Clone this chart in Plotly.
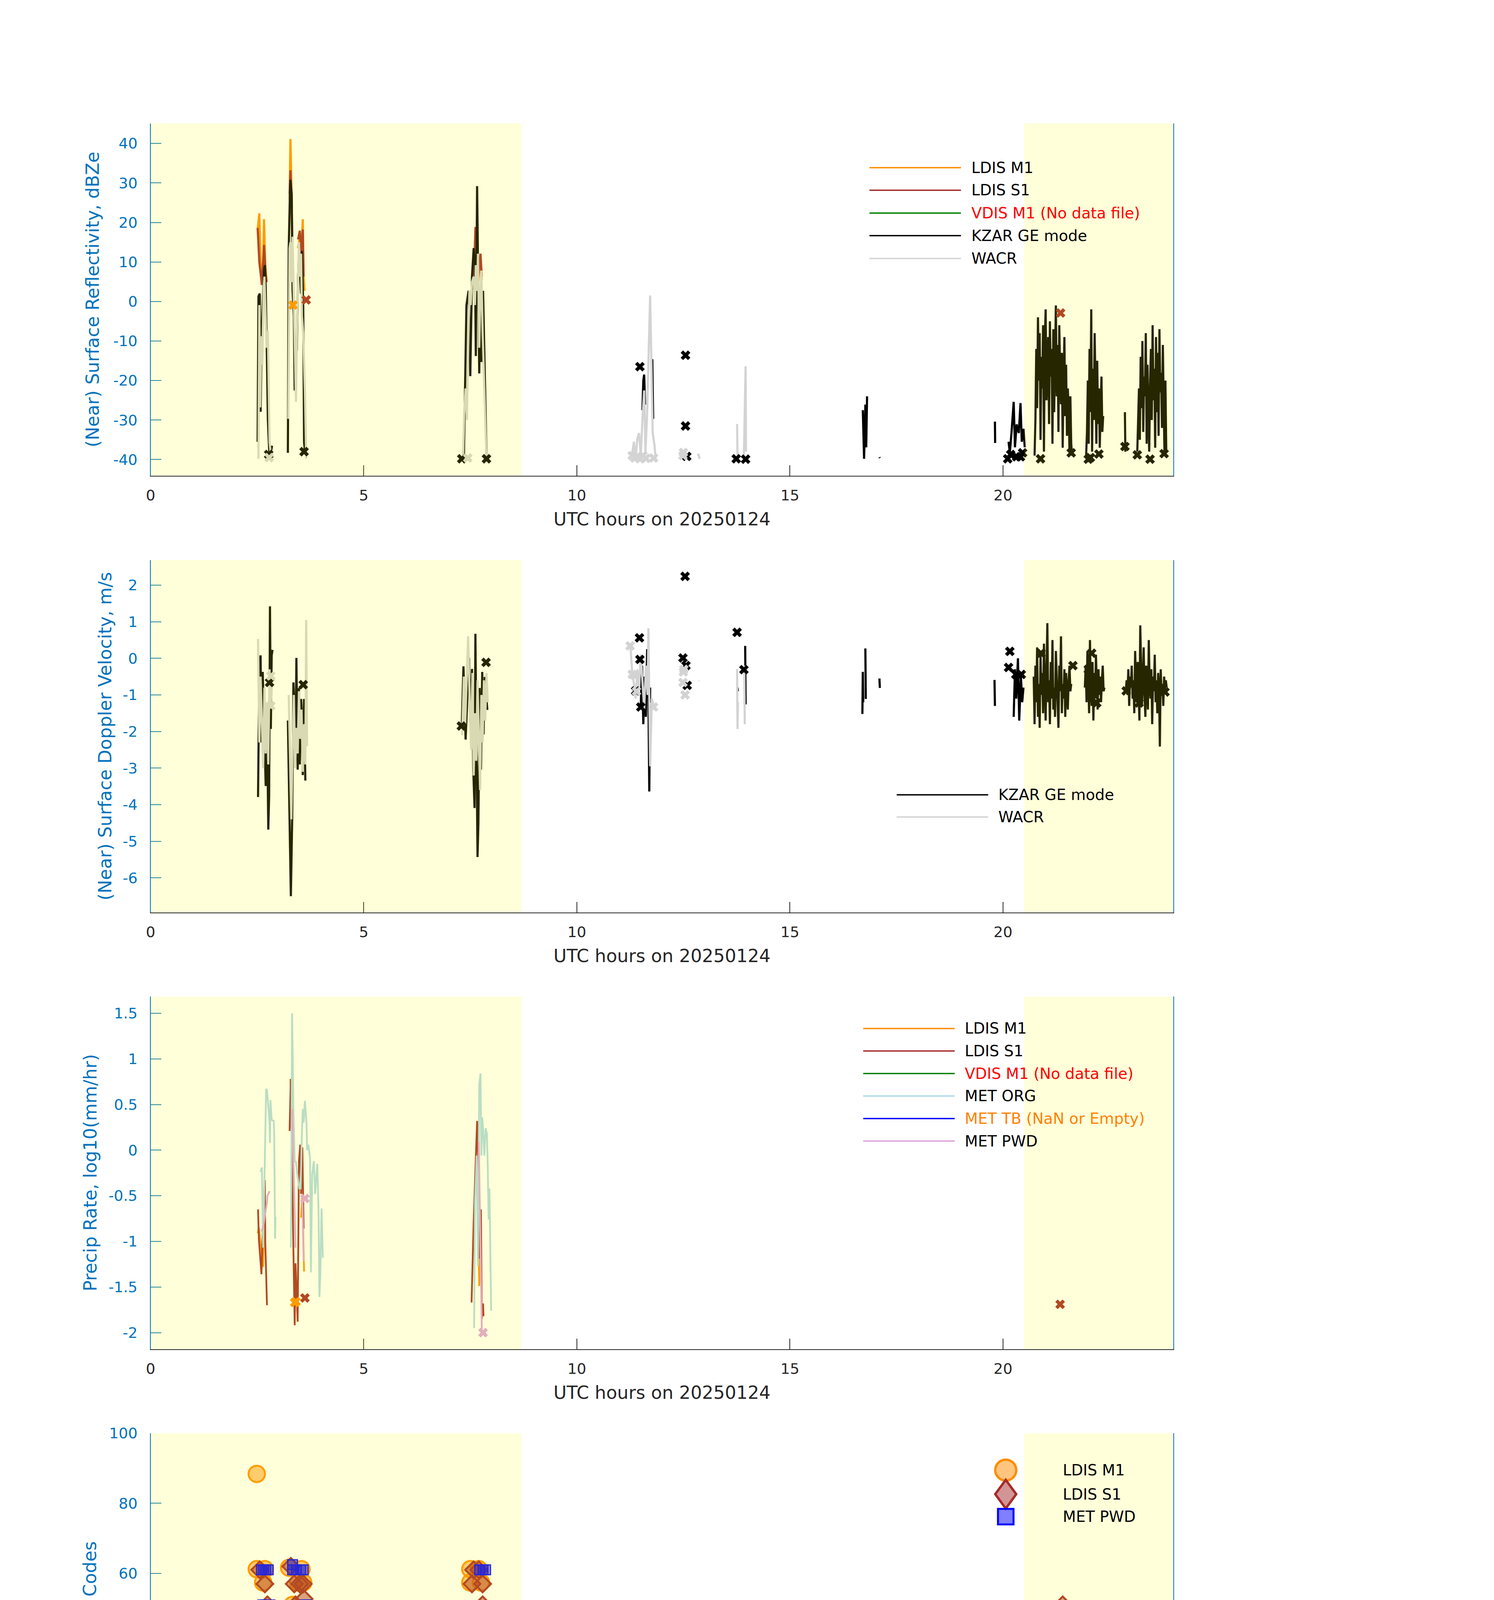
import numpy as np
import plotly.graph_objects as go

W, H = 3825, 6000
FONT = "DejaVu Sans"
AX_BLUE = "#0072BD"
DARK = "#262626"

C_M1 = "#FF8C00"
C_S1 = "#A52A2A"
C_VDIS = "#008000"
C_KZAR = "#000000"
C_WACR = "#D3D3D3"
C_ORG = "#ADD8E6"
C_TB = "#0000FF"
C_PWD = "#DDA0DD"
C_PLUV = "#000000"

# night-time (shaded) windows, UTC hours
night_windows = [(0.0, 8.7), (20.5, 24.0)]
x_ticks = [0, 5, 10, 15, 20]


def clock(t0, dt, vals):
    """sample times of a regularly sampled stretch of data"""
    return [round(t0 + dt * i, 3) for i in range(len(vals))], vals


# ---------------- panel 1: reflectivity (dBZe) ----------------
kzar_dbz = [
    ([2.51, 2.53, 2.56, 2.58, 2.61, 2.63, 2.66, 2.68, 2.70, 2.73, 2.75, 2.79, 2.85],
     [-35.5, 1.3, 2.0, -27.9, -6.6, -1.9, 8.1, 9.2, 3.5, -15.3, -29.7, -39.8, -36.5]),
    ([3.22, 3.24, 3.27, 3.28, 3.31, 3.33, 3.36, 3.38, 3.41, 3.43, 3.46, 3.48, 3.50, 3.53, 3.55, 3.58, 3.60, 3.62],
     [-38.3, 13.5, 28.0, 30.8, 27.2, 2.7, -3.7, -22.5, -10.2, -12.4, 6.3, 12.1, 7.8, 2.0, 12.8, -0.9, -35.5, -38.0]),
    ([7.35, 7.38, 7.41, 7.46, 7.50, 7.54, 7.58, 7.61, 7.63, 7.66, 7.68, 7.71, 7.73, 7.76, 7.80, 7.83, 7.86, 7.88],
     [-39.0, -15.3, -0.9, 2.7, -18.9, 6.3, 13.5, 9.9, -13.8, 29.2, 13.5, -18.2, -0.9, -15.3, 2.7, -15.3, -29.7, -39.0]),
    ([11.54, 11.56, 11.58, 11.60], [-27.5, -20.0, -18.5, -26.1]),
    ([11.77, 11.79], [-14.6, -29.7]),
    ([16.71, 16.74, 16.77, 16.79, 16.81], [-27.5, -39.8, -26.1, -36.9, -24.0]),
    ([17.10, 17.11], [-39.4, -39.6]),
    ([19.81, 19.815], [-30.4, -35.8]),
    ([20.13, 20.16, 20.20, 20.25, 20.28, 20.32, 20.37, 20.41, 20.44, 20.48, 20.51],
     [-35.5, -38.3, -33.0, -25.4, -36.9, -31.1, -33.3, -25.7, -35.5, -32.2, -36.9]),
    clock(20.74, 0.02, [-39, -30, -12, -27, -4, -20, -8, -35, -14, -22, -6, -38, -10, -2, -25, -16, -9, -31,
                        -5, -19, -12, -36, -7, -28, -15, -1, -24, -11, -33, -6, -18, -26, -13, -37, -20, -9,
                        -29, -16, -34, -22, -27, -38, -24, -36, -39]),
    clock(21.95, 0.02, [-39, -33, -20, -36, -12, -28, -2, -38, -17, -30, -8, -25, -36, -15, -31, -22, -37,
                        -27, -19, -33, -29]),
    ([22.86, 22.87], [-28.0, -38.0]),
    clock(23.15, 0.02, [-38, -31, -22, -35, -14, -27, -10, -33, -19, -24, -8, -36, -16, -29, -38, -21, -12,
                        -30, -6, -25, -17, -37, -9, -28, -13, -34, -7, -23, -18, -32, -11, -26, -39, -20, -38]),
]
wacr_dbz = [
    ([2.53, 2.55, 2.57, 2.60, 2.62, 2.65, 2.67, 2.70, 2.72, 2.75, 2.77, 2.79, 2.83],
     [-39.8, -0.9, -26.8, -8.8, -16.0, 3.5, 6.3, -8.1, -11.7, -7.4, -22.5, -35.5, -39.8]),
    ([3.23, 3.26, 3.28, 3.31, 3.33, 3.36, 3.38, 3.41, 3.43, 3.46, 3.48, 3.50, 3.53, 3.55, 3.58, 3.62, 3.65],
     [-29.7, 13.5, 15.0, 4.9, 16.4, -0.9, -15.3, -25.4, -9.5, 9.2, 15.0, 6.3, 12.1, -3.7, -8.1, -22.5, -39.8]),
    ([7.33, 7.36, 7.39, 7.42, 7.45, 7.48, 7.51, 7.54, 7.58, 7.61, 7.63, 7.66, 7.68, 7.71, 7.73, 7.76, 7.79, 7.82, 7.85, 7.88],
     [-39.8, -27.5, -22.0, -30.0, -11.7, 2.7, -0.9, 4.9, 6.3, -0.9, 9.2, 2.7, 12.1, -11.7, -0.9, 7.8, -8.1, -20.3, -29.7, -39.8]),
    ([11.29, 11.34, 11.38, 11.42, 11.46, 11.50, 11.54, 11.58, 11.61, 11.65, 11.69, 11.72, 11.75, 11.78, 11.82, 11.85],
     [-39.0, -35.5, -39.8, -34.7, -33.3, -39.0, -29.7, -22.5, -38.3, -28.3, -11.0, 1.5, -15.3, -33.3, -36.2, -39.8]),
    ([12.85, 12.88], [-38.5, -39.8]),
    ([13.76, 13.77, 13.78], [-31.0, -39.0, -38.0]),
    ([13.92, 13.94, 13.96, 13.97], [-39.0, -23.9, -16.4, -38.0]),
]
m1_dbz = [
    ([2.51, 2.55, 2.58, 2.61, 2.64, 2.66, 2.69, 2.72], [18.2, 22.3, 10.0, 4.2, 10.7, 20.8, 9.2, 4.9]),
    ([3.26, 3.28, 3.31, 3.33], [25.8, 41.1, 25.8, 9.2]),
    ([3.46, 3.50, 3.54, 3.57, 3.59, 3.61], [13.5, 16.4, 12.8, 20.8, 6.3, 2.7]),
    ([7.58, 7.62, 7.66, 7.69, 7.74, 7.77], [3.0, 17.0, 17.5, 5.0, 11.0, 5.5]),
]
s1_dbz = [
    ([2.51, 2.55, 2.61, 2.64, 2.66, 2.69, 2.72], [18.6, 10.0, 4.2, 12.1, 14.3, 8.5, 4.9]),
    ([3.26, 3.28, 3.31, 3.33], [27.2, 33.2, 24.4, 8.5]),
    ([3.46, 3.50, 3.54, 3.57, 3.59], [15.7, 17.9, 12.1, 18.2, 6.3]),
    ([7.58, 7.62, 7.66, 7.69, 7.74, 7.77], [4.2, 18.6, 18.6, 6.3, 12.1, 6.3]),
]
kzar_dbz_pts = ([2.77, 3.60, 7.30, 7.88, 11.48, 12.55, 12.55, 12.58, 13.74, 13.96, 20.11, 20.18, 20.32, 20.41,
                 20.46, 20.88, 21.60, 22.00, 22.05, 22.25, 22.86, 23.15, 23.45, 23.78],
                [-38.7, -38.0, -39.8, -39.8, -16.5, -13.6, -31.5, -39.2, -39.8, -39.9, -39.8, -38.7, -39.3,
                 -39.3, -38.3, -39.8, -38.3, -39.9, -39.5, -38.6, -36.7, -38.8, -39.9, -38.5])
wacr_dbz_pts = ([2.78, 7.44, 11.30, 11.36, 11.42, 11.48, 11.55, 11.62, 11.80, 12.49, 12.50],
                [-39.5, -39.6, -39.0, -39.6, -39.2, -39.8, -39.0, -39.7, -39.6, -39.0, -38.2])
m1_dbz_pts = ([3.34], [-0.9])
s1_dbz_pts = ([3.65, 21.35], [0.4, -2.9])

# ---------------- panel 2: Doppler velocity (m/s) ----------------
kzar_vel = [
    ([2.52, 2.55, 2.58, 2.60, 2.63, 2.66, 2.70, 2.73, 2.76, 2.78, 2.80, 2.82, 2.84, 2.86],
     [-3.79, -0.29, 0.08, -2.30, -0.37, -1.56, -3.49, -1.41, -4.68, -3.79, 1.42, -1.93, 0.08, 0.23]),
    ([3.22, 3.25, 3.27, 3.29, 3.32, 3.35, 3.37, 3.40, 3.42, 3.45, 3.48, 3.50, 3.53, 3.55, 3.57, 3.60, 3.63],
     [-1.70, -3.57, -4.50, -6.50, -4.46, -0.66, -1.26, -2.45, 0.01, -3.04, -0.81, -2.90, -1.11, -1.56, -3.19, -1.11, -3.34]),
    ([7.30, 7.34, 7.39, 7.44, 7.47, 7.50, 7.54, 7.57, 7.60, 7.62, 7.64, 7.67, 7.69, 7.72, 7.75, 7.78, 7.81, 7.84, 7.87, 7.90],
     [-1.85, -0.22, -2.22, -0.96, 0.01, -1.70, -0.29, -3.04, -4.09, 0.67, -2.00, -5.43, -4.53, -0.81, -3.04, -0.37, -2.08, -0.51, -0.96, -1.41]),
    ([11.50, 11.53, 11.56, 11.59, 11.62, 11.65, 11.68, 11.70, 11.72],
     [-1.30, -0.20, -1.80, -0.50, -1.60, 0.25, -1.00, -3.64, -0.80]),
    ([13.77, 13.78], [-0.80, -0.90]),
    ([13.95, 13.96], [0.34, -1.26]),
    ([16.70, 16.71, 16.72], [-1.52, -0.37, -1.20]),
    ([16.77, 16.78], [0.27, -1.11]),
    ([17.10, 17.11], [-0.55, -0.81]),
    ([19.80, 19.81], [-0.59, -1.30]),
    ([20.25, 20.28, 20.31, 20.35, 20.38, 20.42, 20.45, 20.48], [-1.60, -0.30, -1.10, 0.00, -1.70, -0.50, -1.20, -0.80]),
    clock(20.72, 0.02, [-0.5, -1.8, -0.2, -1.2, 0.3, -1.6, -0.7, -1.9, 0.1, -1.0, -0.4, -1.5, 0.4, -0.9, -1.7, -0.3,
                        0.96, -1.2, -0.6, -1.8, -0.1, -1.1, 0.5, -1.4, -0.8, -1.6, 0.2, -0.5, -1.3, -1.9, -0.2, -0.9,
                        0.6, -1.5, -0.7, -1.1, -0.3, -1.6, -0.4, -1.0, -1.4, -0.6, -0.2, -0.9, -0.7]),
    clock(21.92, 0.02, [-0.8, -0.2, -1.2, 0.2, -0.6, -1.5, 0.5, -0.9, -1.3, -0.1, -1.7, -0.4, -1.1, 0.1, -0.7, -1.4,
                        -0.3, -1.0, -0.5, -1.2, -0.6, -0.2, -0.9, -0.8]),
    clock(22.88, 0.02, [-0.9, -0.6, -1.0, -0.3, -1.3, -0.5, -0.8, -0.2, -1.1, -0.6, -1.5, 0.2, -0.7, -1.2, -0.1, -0.9,
                        -1.7, 0.9, -0.4, -1.3, -0.6, 0.3, -1.0, -1.6, -0.2, -0.8, -1.4, 0.5, -0.7, -1.1, -0.3, -1.8,
                        -0.5, -0.9, 0.1, -1.2, -0.6, -1.5, -0.4, -0.8, -2.41, -0.3, -1.0, -0.7, -1.3, -0.5, -0.9,
                        -0.6, -0.8]),
]
wacr_vel = [
    ([2.52, 2.55, 2.58, 2.61, 2.64, 2.67, 2.70, 2.73, 2.76, 2.79, 2.82, 2.85],
     [0.53, -2.30, -0.50, -2.00, -3.00, -0.80, -2.60, -1.20, -2.90, -0.30, -1.30, -0.40]),
    ([3.24, 3.27, 3.30, 3.33, 3.36, 3.39, 3.42, 3.45, 3.48, 3.51, 3.54, 3.57, 3.60, 3.63, 3.65, 3.67],
     [-1.00, -2.70, -4.40, -2.50, -1.00, -3.00, -1.90, -2.60, -0.90, -2.20, -1.40, -3.10, -1.80, -2.90, 1.05, -2.40]),
    ([7.31, 7.35, 7.38, 7.42, 7.45, 7.49, 7.52, 7.55, 7.58, 7.61, 7.64, 7.67, 7.70, 7.73, 7.76, 7.79, 7.82, 7.85, 7.88, 7.91],
     [-2.10, -0.50, -1.80, -0.60, 0.60, -1.30, -2.50, -0.40, -3.20, -1.50, -2.80, -0.60, -1.90, -3.60, -1.00, -2.30, -0.60, -1.70, -0.40, -1.20]),
    ([11.26, 11.30, 11.34, 11.38, 11.42, 11.46, 11.50, 11.54, 11.58, 11.62, 11.66, 11.68, 11.70, 11.72, 11.76, 11.80],
     [0.30, -0.40, -0.70, -1.10, -0.30, -0.80, 0.10, -0.60, -1.40, -0.20, -1.00, 0.82, -1.80, -2.95, -1.10, -1.30]),
    ([12.86, 12.87], [-0.61, -0.62]),
    ([13.76, 13.77, 13.78], [-0.29, -1.93, -1.20]),
    ([13.93, 13.94], [-0.20, -1.80]),
]
kzar_vel_pts = ([2.79, 3.58, 7.29, 7.87, 11.47, 11.48, 11.38, 11.50, 12.54, 12.49, 12.59, 12.56, 13.76, 13.92,
                 20.16, 20.13, 20.30, 20.43, 20.89, 21.64, 22.08, 22.00, 22.20, 22.89, 23.19, 23.19, 23.80],
                [-0.66, -0.72, -1.85, -0.11, 0.56, -0.03, -0.89, -1.33, 2.24, 0.01, -0.74, -0.20, 0.71, -0.31,
                 0.19, -0.25, -0.44, -0.44, 0.14, -0.20, 0.14, -0.30, -1.22, -0.89, -0.48, -1.22, -0.92])
wacr_vel_pts = ([2.82, 2.82, 11.25, 11.30, 11.35, 11.40, 11.80, 12.50, 12.49, 12.54, 12.51],
                [-0.48, -1.30, 0.34, -0.44, -0.46, -0.90, -1.33, -0.37, -0.66, -1.00, -0.30])

# ---------------- panel 3: precip rate, log10(mm/hr) ----------------
m1_rate = [
    ([2.51, 2.54, 2.60, 2.64, 2.68], [-0.91, -0.85, -1.10, -1.28, -0.40]),
    ([3.28, 3.31, 3.34], [0.78, 0.20, -0.80]),
    ([3.53, 3.56, 3.60], [-0.74, -0.50, -1.33]),
    ([7.69, 7.71, 7.74], [-0.90, -1.49, -1.20]),
]
s1_rate = [
    ([2.52, 2.54, 2.60, 2.65, 2.68, 2.69, 2.73], [-0.65, -0.98, -1.36, -0.60, -0.33, -1.01, -1.70]),
    ([3.26, 3.29, 3.31, 3.33, 3.35, 3.38, 3.40, 3.43, 3.45, 3.48, 3.51, 3.53, 3.56, 3.59],
     [0.21, 0.78, 0.00, -0.59, -1.19, -1.92, -1.24, -1.58, -1.88, -0.12, 0.06, -0.48, 0.03, -0.86]),
    ([7.53, 7.56, 7.58, 7.66, 7.69, 7.71, 7.73, 7.75, 7.77, 7.80, 7.81],
     [-1.67, -1.01, -0.77, 0.32, -0.24, -1.19, -0.98, -0.65, -1.85, -1.68, -1.82]),
]
org_rate = [
    ([2.58, 2.61, 2.64, 2.71, 2.73, 2.79, 2.80, 2.81, 2.84, 2.89, 2.90, 2.92, 2.93],
     [-0.24, -0.19, -1.07, 0.67, 0.66, 0.30, 0.08, 0.55, 0.33, 0.32, 0.15, -0.97, -0.73]),
    ([3.29, 3.32, 3.35, 3.38, 3.41, 3.45, 3.49, 3.52, 3.55, 3.57, 3.59, 3.62, 3.66, 3.67, 3.70, 3.74, 3.76, 3.79,
      3.83, 3.86, 3.91, 3.94, 3.96, 3.98, 4.01, 4.04],
     [-1.07, 1.50, 0.45, -0.12, -0.13, -0.30, -0.42, -0.42, 0.21, 0.45, 0.30, 0.54, 0.27, 0.00, 0.06, -0.09, -1.34,
      -0.27, -0.12, -0.48, -0.15, -0.68, -1.61, -1.39, -0.64, -1.18]),
    ([7.59, 7.61, 7.65, 7.68, 7.71, 7.74, 7.76, 7.78, 7.80, 7.83, 7.86, 7.89, 7.91, 7.93, 7.95, 7.99],
     [-1.95, -0.57, -0.06, -1.27, 0.72, 0.84, -0.06, 0.36, 0.24, -0.06, 0.24, 0.18, -0.18, -0.76, -0.42, -1.76]),
]
pwd_rate = [
    ([2.60, 2.64, 2.73, 2.74, 2.79], [-0.89, -0.85, -0.57, -0.50, -0.45]),
    ([3.32, 3.36, 3.40], [0.45, -0.39, -1.07]),
    ([3.56, 3.59], [-0.54, -1.22]),
    ([7.70, 7.72, 7.75, 7.77], [0.09, -0.45, -1.34, -1.98]),
]
m1_rate_pts = ([3.38, 3.41], [-1.67, -1.66])
s1_rate_pts = ([3.62, 21.34], [-1.62, -1.69])
pwd_rate_pts = ([3.62, 7.80], [-0.53, -2.00])

# ---------------- panel 4: weather codes ----------------
wx_clock = np.arange(0.0, 24.0001, 0.05)   # reporting times; code 0 = no weather
m1_wx_t = [2.49, 2.49, 2.68, 2.64, 3.25, 3.54, 3.33, 3.58, 3.46, 7.50, 7.70, 7.50, 7.75]
m1_wx_v = [88.4, 61.2, 61.2, 57.4, 61.6, 61.2, 51.0, 57.4, 57.4, 61.2, 61.2, 57.4, 57.4]
s1_wx_t = [2.56, 2.68, 2.74, 3.29, 3.37, 3.58, 3.40, 3.60, 3.50, 7.58, 7.54, 7.79, 7.79, 7.70, 21.40]
s1_wx_v = [61, 57, 51, 62, 57, 57, 51, 52.7, 57, 61, 57, 57, 51, 61, 51]
pwd_wx_t = [2.60, 2.65, 2.70, 2.76, 2.63, 2.70, 2.80, 3.33, 3.42, 3.52, 3.58, 3.33, 3.62, 3.66,
            3.48, 3.53, 3.58, 3.63, 3.68, 3.73, 3.77, 7.72, 7.80, 7.86]
pwd_wx_v = [61, 61, 61, 61, 51, 51, 51, 61, 61, 61, 61, 62.5, 51, 51,
            10, 10, 10, 10, 10, 10, 10, 61, 61, 61]

# ---------------- panel 5: cumulative precip (mm) ----------------
m1_cum_t = [0, 2.55, 2.70, 2.76, 3.25, 3.30, 3.37, 3.48, 3.54, 3.59, 7.54, 7.62, 7.65, 7.70, 7.79, 24]
m1_cum_v = [0, 0, 0.012, 0.018, 0.018, 0.12, 0.216, 0.235, 0.25, 0.264, 0.264, 0.27, 0.272, 0.318, 0.32, 0.32]
s1_cum_t = [0, 2.50, 2.55, 2.72, 3.25, 3.29, 3.37, 3.48, 3.58, 7.54, 7.62, 7.68, 7.79, 24]
s1_cum_v = [0, 0, 0.01, 0.036, 0.036, 0.192, 0.227, 0.278, 0.327, 0.327, 0.335, 0.396, 0.405, 0.405]
org_cum_t = [0, 2.55, 2.60, 2.68, 2.72, 2.76, 2.82, 2.86]
org_cum_v = [0, 0, 0.019, 0.054, 0.123, 0.26, 0.43, 0.60]
tb_cum_t = [3.33, 24]
tb_cum_v = [0, 0]
pwd_cum_t = [0, 2.60, 2.68, 2.72, 2.80, 3.25, 3.33, 3.40, 3.62, 3.66, 7.69, 7.75, 24]
pwd_cum_v = [0, 0, 0.009, 0.010, 0.029, 0.029, 0.088, 0.102, 0.102, 0.132, 0.132, 0.167, 0.167]
# Pluvio bucket: 0 until 3.30, 0.1 until 3.62, then 0.2 with short dips back to 0.1
pluvio_start_t = [0.0, 3.30, 3.62]
pluvio_start_v = [0.0, 0.1, 0.2]
pluvio_dips = [
    (3.97, 4.00), (4.04, 4.06), (4.08, 4.12), (4.15, 4.18), (4.26, 4.27), (4.44, 4.45), (4.58, 4.59),
    (4.84, 4.93), (5.28, 5.29), (5.33, 5.38), (5.50, 5.51), (5.56, 5.62), (5.83, 5.87), (5.99, 6.00),
    (6.03, 6.04), (6.11, 6.12), (6.23, 6.27), (6.85, 6.89), (6.93, 6.94), (7.03, 7.04), (7.09, 7.24),
    (7.28, 7.70), (11.66, 11.67), (11.75, 11.76), (11.96, 11.97), (12.10, 12.11), (12.16, 12.17),
    (12.45, 12.50), (12.63, 12.64), (12.69, 12.72), (12.84, 12.88), (13.07, 13.08), (13.20, 13.21),
    (13.41, 13.47), (13.59, 13.60), (13.82, 13.88), (14.15, 14.21), (14.35, 14.40), (14.62, 14.69),
    (14.83, 14.84), (14.87, 14.88), (14.92, 14.93), (15.03, 15.04), (15.08, 15.09), (15.13, 15.14),
    (15.17, 15.18), (15.22, 15.23), (15.26, 15.27), (15.33, 15.34), (15.38, 15.39), (15.60, 15.62),
    (15.65, 15.66), (15.71, 15.72), (15.76, 15.77), (15.80, 15.81), (15.85, 15.86), (15.89, 15.90),
    (15.93, 16.05), (16.18, 16.19), (16.23, 16.24), (16.27, 16.28), (16.39, 16.40), (16.48, 16.64),
    (16.70, 16.71), (16.75, 16.76), (16.84, 16.85), (17.00, 17.01), (17.22, 17.23), (17.42, 17.43),
    (17.60, 17.61), (17.66, 17.67), (17.75, 17.76), (17.93, 17.94), (18.02, 18.03), (18.79, 18.80),
    (18.91, 18.92), (19.32, 19.33), (19.59, 19.60), (19.71, 19.72), (19.80, 19.81), (19.92, 19.93),
    (19.98, 19.99), (20.37, 20.38), (20.46, 20.47), (20.52, 20.53), (20.57, 20.58), (21.20, 21.21),
    (21.64, 21.65), (22.78, 22.80), (22.90, 22.91), (23.03, 23.04), (23.15, 23.16),
]
pluvio_pts = ([3.25], [0.0])


def join(segs):
    xs, ys = [], []
    for t, v in segs:
        xs += list(t) + [None]
        ys += list(v) + [None]
    return xs, ys


# ---------------- figure layout ----------------
# top edge of each panel in px
panel_top = [295.5, 1421, 2546, 3671, 4795]
PANEL_H = 908
x_dom = [0.098, 0.7848]
y_ranges = [[-44.07, 45.1], [-6.944, 2.685], [-2.18, 1.682], [-0.6, 100], [-0.0207, 0.426]]
y_ticks = [list(range(-40, 41, 10)), list(range(-6, 3)), [-2, -1.5, -1, -0.5, 0, 0.5, 1, 1.5],
           list(range(0, 101, 20)), [0, 0.05, 0.1, 0.15, 0.2, 0.25, 0.3, 0.35, 0.4]]
y_titles = ["(Near) Surface Reflectivity, dBZe", "(Near) Surface Doppler Velocity, m/s",
            "Precip Rate, log10(mm/hr)", "Weather Codes", "Cum. Precip, mm"]
y_title_px = [225, 258, 219, 219, 202]
line_w = [5.5, 5.5, 4.5, 4.0, 4.0]

fig = go.Figure()


def ax(i):
    return ("x", "y") if i == 1 else (f"x{i}", f"y{i}")


def add_lines(i, segs, color):
    xa, ya = ax(i)
    x, y = join(segs)
    fig.add_trace(go.Scatter(x=x, y=y, mode="lines", xaxis=xa, yaxis=ya,
                             line=dict(color=color, width=line_w[i - 1]), hoverinfo="skip"))


def add_crosses(i, pts, color):
    xa, ya = ax(i)
    fig.add_trace(go.Scatter(x=pts[0], y=pts[1], mode="markers", xaxis=xa, yaxis=ya,
                             marker=dict(symbol="x", size=22, color=color, line=dict(width=0)),
                             hoverinfo="skip"))


# panel 1
add_lines(1, m1_dbz, C_M1)
add_lines(1, s1_dbz, C_S1)
add_lines(1, kzar_dbz, C_KZAR)
add_lines(1, wacr_dbz, C_WACR)
add_crosses(1, m1_dbz_pts, C_M1)
add_crosses(1, s1_dbz_pts, C_S1)
add_crosses(1, kzar_dbz_pts, C_KZAR)
add_crosses(1, wacr_dbz_pts, C_WACR)

# panel 2
add_lines(2, kzar_vel, C_KZAR)
add_lines(2, wacr_vel, C_WACR)
add_crosses(2, kzar_vel_pts, C_KZAR)
add_crosses(2, wacr_vel_pts, C_WACR)

# panel 3
add_lines(3, m1_rate, C_M1)
add_lines(3, s1_rate, C_S1)
add_lines(3, org_rate, C_ORG)
add_lines(3, pwd_rate, C_PWD)
add_crosses(3, m1_rate_pts, C_M1)
add_crosses(3, s1_rate_pts, C_S1)
add_crosses(3, pwd_rate_pts, C_PWD)

# panel 4
zeros = np.zeros(len(wx_clock))
for ev_t, ev_v, sym, size, edge, fill, lw in [
    (m1_wx_t, m1_wx_v, "circle", 42, C_M1, "rgba(255,140,0,0.5)", 5),
    (s1_wx_t, s1_wx_v, "diamond", 33, C_S1, "rgba(165,42,42,0.5)", 5),
    (pwd_wx_t, pwd_wx_v, "square", 25, C_TB, "rgba(0,0,255,0.5)", 3),
]:
    fig.add_trace(go.Scatter(x=np.concatenate([wx_clock, ev_t]), y=np.concatenate([zeros, ev_v]),
                             mode="markers", xaxis="x4", yaxis="y4", cliponaxis=False,
                             marker=dict(symbol=sym, size=size, color=fill, line=dict(color=edge, width=lw)),
                             hoverinfo="skip"))

# panel 5
pl_t = list(pluvio_start_t)
pl_v = list(pluvio_start_v)
for a, b in pluvio_dips:
    pl_t += [a, b]
    pl_v += [0.1, 0.2]
pl_t.append(24.0)
pl_v.append(0.2)
for t, v, c in [(m1_cum_t, m1_cum_v, C_M1), (s1_cum_t, s1_cum_v, C_S1), (org_cum_t, org_cum_v, C_ORG),
                (tb_cum_t, tb_cum_v, C_TB), (pwd_cum_t, pwd_cum_v, C_PWD)]:
    fig.add_trace(go.Scatter(x=t, y=v, mode="lines", xaxis="x5", yaxis="y5",
                             line=dict(color=c, width=line_w[4]), hoverinfo="skip"))
fig.add_trace(go.Scatter(x=pl_t, y=pl_v, mode="lines", xaxis="x5", yaxis="y5",
                         line=dict(color=C_PLUV, width=line_w[4], shape="hv"), hoverinfo="skip"))
add_crosses(5, pluvio_pts, C_PLUV)

layout = dict(width=W, height=H, margin=dict(l=0, r=0, t=0, b=0), showlegend=False,
              paper_bgcolor="white", plot_bgcolor="white", font=dict(family=FONT))
shapes, annotations = [], []
for i in range(1, 6):
    xa, ya = ax(i)
    xkey = "xaxis" if i == 1 else f"xaxis{i}"
    ykey = "yaxis" if i == 1 else f"yaxis{i}"
    top = panel_top[i - 1]
    y0, y1 = 1 - (top + PANEL_H) / H, 1 - top / H
    layout[xkey] = dict(domain=x_dom, range=[0, 24], anchor=ya, tickvals=x_ticks,
                        ticktext=[str(v) for v in x_ticks], ticks="inside", ticklen=27, tickwidth=2,
                        tickcolor=DARK, showline=True, linecolor=DARK, linewidth=2, showgrid=False,
                        zeroline=False, tickfont=dict(size=38, color=DARK, family=FONT),
                        ticklabelstandoff=16)
    layout[ykey] = dict(domain=[y0, y1], range=y_ranges[i - 1], anchor=xa, tickvals=y_ticks[i - 1],
                        ticktext=[f"{v:g}" for v in y_ticks[i - 1]], ticks="inside", ticklen=27,
                        tickwidth=2, tickcolor=AX_BLUE, showline=True, linecolor=AX_BLUE, linewidth=2,
                        mirror=True, showgrid=False, zeroline=False,
                        tickfont=dict(size=38, color=AX_BLUE, family=FONT), ticklabelstandoff=24)
    for a, b in night_windows:
        shapes.append(dict(type="rect", xref=xa, yref=f"{ya} domain", x0=a, x1=b, y0=0, y1=1,
                           fillcolor="rgba(255,255,0,0.15)", line=dict(width=0), layer="above"))
    annotations.append(dict(xref="paper", yref="paper", x=y_title_px[i - 1] / W, y=(y0 + y1) / 2,
                            text=y_titles[i - 1], textangle=-90, showarrow=False, xanchor="center",
                            yanchor="middle", font=dict(size=46, color=AX_BLUE, family=FONT)))
    annotations.append(dict(xref="paper", yref="paper", x=(x_dom[0] + x_dom[1]) / 2, y=y0 - 112 / H,
                            text="UTC hours on 20250124", showarrow=False, xanchor="center",
                            yanchor="middle", font=dict(size=46, color=DARK, family=FONT)))


def line_legend(p, items, x0, x1, xt, rows):
    top = panel_top[p - 1]
    for (label, color, tcolor), r in zip(items, rows):
        yy = 1 - (top + r) / H
        shapes.append(dict(type="line", xref="paper", yref="paper", x0=x0 / W, x1=x1 / W, y0=yy, y1=yy,
                           line=dict(color=color, width=3.5)))
        annotations.append(dict(xref="paper", yref="paper", x=xt / W, y=yy, text=label, showarrow=False,
                                xanchor="left", yanchor="middle", font=dict(size=39, color=tcolor, family=FONT)))


line_legend(1, [("LDIS M1", C_M1, "black"), ("LDIS S1", C_S1, "black"),
                ("VDIS M1 (No data file)", C_VDIS, "#FF0000"), ("KZAR GE mode", C_KZAR, "black"),
                ("WACR", C_WACR, "black")],
            2221, 2456, 2481, [114.5, 172.5, 231.5, 289.5, 348.5])
line_legend(2, [("KZAR GE mode", C_KZAR, "black"), ("WACR", C_WACR, "black")],
            2291, 2526, 2550, [605, 662])
line_legend(3, [("LDIS M1", C_M1, "black"), ("LDIS S1", C_S1, "black"),
                ("VDIS M1 (No data file)", C_VDIS, "#FF0000"), ("MET ORG", C_ORG, "black"),
                ("MET TB (NaN or Empty)", C_TB, "#FF8000"), ("MET PWD", C_PWD, "black")],
            2205, 2440, 2464, [82, 140, 198, 256, 314, 372])
line_legend(5, [("LDIS M1", C_M1, "black"), ("LDIS S1", C_S1, "black"),
                ("VDIS M1 (No data file)", C_VDIS, "#FF0000"), ("MET ORG", C_ORG, "black"),
                ("MET TB", C_TB, "black"), ("MET PWD", C_PWD, "black"), ("Pluvio M1", C_PLUV, "black")],
            469, 702, 729, [59, 118, 177, 236, 294, 353, 412])

# marker legend for weather codes
top4 = panel_top[3]
cx = 2571
cy = top4 + 95
shapes.append(dict(type="circle", xref="paper", yref="paper", x0=(cx - 27) / W, x1=(cx + 27) / W,
                   y0=1 - (cy + 27) / H, y1=1 - (cy - 27) / H, fillcolor="rgba(255,140,0,0.5)",
                   line=dict(color=C_M1, width=6)))
cy = top4 + 157
shapes.append(dict(type="path", xref="paper", yref="paper",
                   path=(f"M {(cx - 27) / W},{1 - cy / H} L {cx / W},{1 - (cy - 37) / H} "
                         f"L {(cx + 27) / W},{1 - cy / H} L {cx / W},{1 - (cy + 37) / H} Z"),
                   fillcolor="rgba(165,42,42,0.5)", line=dict(color=C_S1, width=6)))
cy = top4 + 215
shapes.append(dict(type="rect", xref="paper", yref="paper", x0=(cx - 20) / W, x1=(cx + 20) / W,
                   y0=1 - (cy + 20) / H, y1=1 - (cy - 20) / H, fillcolor="rgba(0,0,255,0.5)",
                   line=dict(color=C_TB, width=5)))
for label, r in [("LDIS M1", 95), ("LDIS S1", 157), ("MET PWD", 215)]:
    annotations.append(dict(xref="paper", yref="paper", x=2716 / W, y=1 - (top4 + r) / H, text=label,
                            showarrow=False, xanchor="left", yanchor="middle",
                            font=dict(size=39, color="black", family=FONT)))

layout["shapes"] = shapes
layout["annotations"] = annotations
fig.update_layout(**layout)
fig.write_html("out.html", config={"displayModeBar": False},
               post_script="document.body.style.margin='0';")
